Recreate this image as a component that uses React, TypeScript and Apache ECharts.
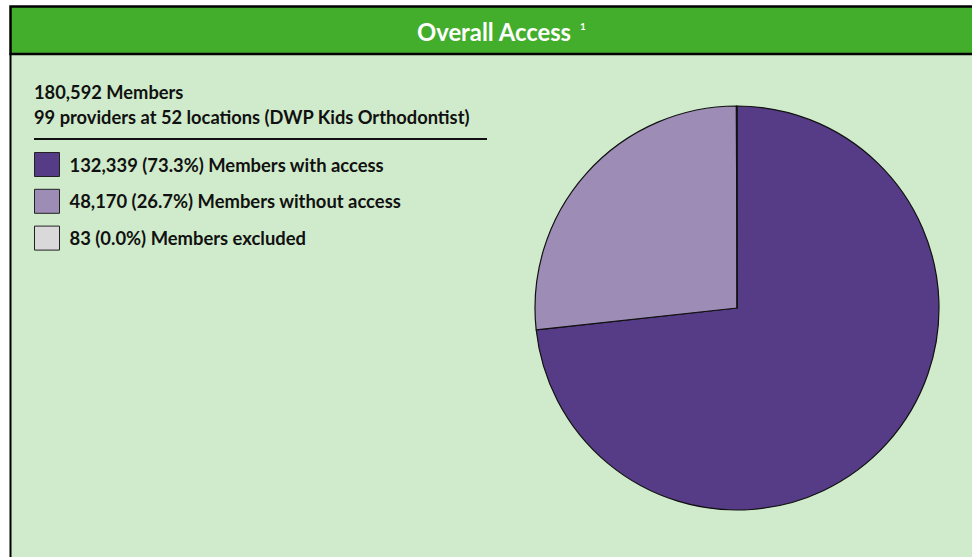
import React, { useEffect, useRef } from "react";
import * as echarts from "echarts";

const categories = ["Members with access", "Members without access", "Members excluded"];
const memberCounts = [132339, 48170, 83];
const sliceColors = ["#563c86", "#9d8cb6", "#d9d9d9"];
const providerCount = 99;
const locationCount = 52;
const networkName = "DWP Kids Orthodontist";
const titleText = "Overall Access";
const footnoteMark = "1";

const FONT = "Lato, 'Open Sans', sans-serif";

export default function App() {
  const ref = useRef<HTMLDivElement>(null);
  useEffect(() => {
    if (!ref.current) return;
    const chart = echarts.init(ref.current, null, { renderer: "svg" });
    const total = memberCounts.reduce((a, b) => a + b, 0);
    const fmt = (n: number) => n.toLocaleString("en-US");
    const lookup: Record<string, number> = {};
    categories.forEach((c, i) => (lookup[c] = memberCounts[i]));

    chart.setOption({
      animation: false,
      backgroundColor: "#ffffff",
      graphic: [
        {
          type: "rect",
          z: -10,
          silent: true,
          shape: { x: 10.5, y: 54, width: 1000, height: 600 },
          style: { fill: "#d0ebcb", stroke: "#000", lineWidth: 2 },
        },
        {
          type: "rect",
          z: -9,
          silent: true,
          shape: { x: 10.5, y: 6.5, width: 1000, height: 47.5 },
          style: { fill: "#43ae2b", stroke: "#000", lineWidth: 2.5 },
        },
        {
          type: "text",
          x: 417,
          y: 31.5,
          style: {
            text: titleText,
            fill: "#ffffff",
            font: `bold 23.8px ${FONT}`,
            verticalAlign: "middle",
          },
        },
        {
          type: "text",
          x: 580,
          y: 26,
          style: {
            text: footnoteMark,
            fill: "#ffffff",
            font: `bold 10px ${FONT}`,
            verticalAlign: "middle",
          },
        },
        {
          type: "text",
          x: 34,
          y: 92,
          style: {
            text: `${fmt(total)} Members`,
            fill: "#111",
            font: `bold 18.3px ${FONT}`,
            verticalAlign: "middle",
          },
        },
        {
          type: "text",
          x: 34,
          y: 117,
          style: {
            text: `${providerCount} providers at ${locationCount} locations (${networkName})`,
            fill: "#111",
            font: `bold 18.3px ${FONT}`,
            verticalAlign: "middle",
          },
        },
        {
          type: "line",
          silent: true,
          shape: { x1: 34, y1: 139, x2: 487, y2: 139 },
          style: { stroke: "#111", lineWidth: 2 },
        },
      ],
      legend: {
        orient: "vertical",
        left: 29,
        top: 147,
        itemWidth: 25,
        itemHeight: 24,
        itemGap: 11.8,
        icon: "rect",
        selectedMode: false,
        data: categories,
        itemStyle: { borderColor: "#222", borderWidth: 1 },
        textStyle: {
          fontFamily: FONT,
          fontWeight: "bold",
          fontSize: 18.4,
          color: "#111",
          padding: [0, 0, 0, 5],
        },
        formatter: (name: string) => {
          const v = lookup[name];
          const pct = ((v / total) * 100).toFixed(1);
          return `${fmt(v)} (${pct}%) ${name}`;
        },
      },
      series: [
        {
          type: "pie",
          center: [737, 308],
          radius: 202,
          startAngle: 90,
          clockwise: true,
          label: { show: false },
          labelLine: { show: false },
          emphasis: { disabled: true },
          itemStyle: { borderColor: "#111", borderWidth: 1.2 },
          data: categories.map((c, i) => ({
            name: c,
            value: memberCounts[i],
            itemStyle: { color: sliceColors[i] },
          })),
        },
      ],
    });
    return () => chart.dispose();
  }, []);
  return (
    <div style={{ position: "absolute", left: 0, top: 0, width: 972, height: 557, overflow: "hidden" }}>
      <div ref={ref} style={{ width: 972, height: 557 }} />
    </div>
  );
}
